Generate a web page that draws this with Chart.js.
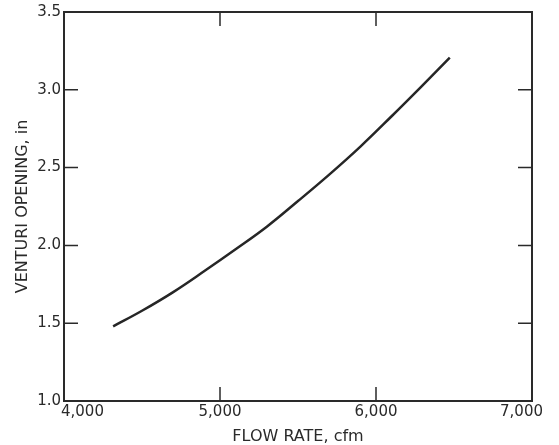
<!DOCTYPE html>
<html>
<head>
<meta charset="utf-8">
<script src="https://cdn.jsdelivr.net/npm/chart.js@4/dist/chart.umd.min.js"></script>
<style>
  html, body { margin: 0; padding: 0; background: #fff; }
  #wrap { width: 559px; height: 445px; }
</style>
</head>
<body>
<div id="wrap"><canvas id="grafica"></canvas></div>
<script>
// datos
const flujo = [4315, 4500, 4700, 4900, 5100, 5300, 5500, 5700, 5900, 6100, 6300, 6473];
const apertura = [1.48, 1.58, 1.70, 1.835, 1.975, 2.12, 2.285, 2.455, 2.635, 2.83, 3.03, 3.206];
const ticksX = [4000, 5000, 6000, 7000];
const ticksY = [1.0, 1.5, 2.0, 2.5, 3.0, 3.5];
const etiquetasX = ['4,000', '5,000', '6,000', '7,000'];

const colorTinta = '#2a2a2a';
const fuente = '"DejaVu Sans", sans-serif';

// marco y marcas hacia adentro, como en la grafica original
const marcoPlugin = {
  id: 'marco',
  afterDraw(chart) {
    const {ctx, chartArea: a, scales: {x, y}} = chart;
    const largo = 14;
    ctx.save();
    ctx.strokeStyle = colorTinta;
    ctx.lineWidth = 2;
    ctx.strokeRect(a.left, a.top, a.right - a.left, a.bottom - a.top);
    ctx.lineWidth = 1.5;
    ctx.beginPath();
    ticksX.slice(1, -1).forEach(v => {
      const px = x.getPixelForValue(v);
      ctx.moveTo(px, a.bottom); ctx.lineTo(px, a.bottom - largo);
      ctx.moveTo(px, a.top); ctx.lineTo(px, a.top + largo);
    });
    ticksY.slice(1, -1).forEach(v => {
      const py = y.getPixelForValue(v);
      ctx.moveTo(a.left, py); ctx.lineTo(a.left + largo, py);
      ctx.moveTo(a.right, py); ctx.lineTo(a.right - largo, py);
    });
    ctx.stroke();

    // etiquetas del eje x
    ctx.fillStyle = colorTinta;
    ctx.font = '15px ' + fuente;
    ctx.textBaseline = 'middle';
    ticksX.forEach((v, i) => {
      let px = x.getPixelForValue(v);
      if (i === 0) { ctx.textAlign = 'left'; px -= 3; }
      else if (i === ticksX.length - 1) { ctx.textAlign = 'right'; px += 11; }
      else ctx.textAlign = 'center';
      ctx.fillText(etiquetasX[i], px, a.bottom + 11);
    });
    ctx.restore();
  }
};

const ctx = document.getElementById('grafica').getContext('2d');
new Chart(ctx, {
  type: 'scatter',
  data: {
    datasets: [{
      data: flujo.map((f, i) => ({x: f, y: apertura[i]})),
      showLine: true,
      tension: 0.4,
      pointRadius: 0,
      borderColor: '#262626',
      borderWidth: 2.5,
      fill: false
    }]
  },
  options: {
    responsive: true,
    maintainAspectRatio: false,
    animation: false,
    layout: { padding: { top: 10, right: 27, left: 0, bottom: 0 } },
    plugins: {
      legend: { display: false },
      tooltip: { enabled: false }
    },
    scales: {
      x: {
        type: 'linear',
        min: 4000,
        max: 7000,
        afterBuildTicks: s => { s.ticks = ticksX.map(v => ({value: v})); },
        afterFit: s => { s.height = 44; },
        grid: { display: false, drawTicks: false },
        border: { display: false },
        ticks: { display: false },
        title: {
          display: true,
          text: 'FLOW RATE, cfm',
          color: colorTinta,
          font: { family: fuente, size: 16, lineHeight: 1 },
          padding: { top: 0, bottom: 0 }
        }
      },
      y: {
        type: 'linear',
        min: 1.0,
        max: 3.5,
        afterBuildTicks: s => { s.ticks = ticksY.map(v => ({value: v})); },
        afterFit: s => { s.width = 64; },
        grid: { display: false, drawTicks: false },
        border: { display: false },
        ticks: {
          color: colorTinta,
          padding: 3,
          font: { family: fuente, size: 15 },
          callback: v => v.toFixed(1)
        },
        title: {
          display: true,
          text: 'VENTURI OPENING, in',
          color: colorTinta,
          font: { family: fuente, size: 16, lineHeight: 1 },
          padding: { top: 15, bottom: 0 }
        }
      }
    }
  },
  plugins: [marcoPlugin]
});
</script>
</body>
</html>
